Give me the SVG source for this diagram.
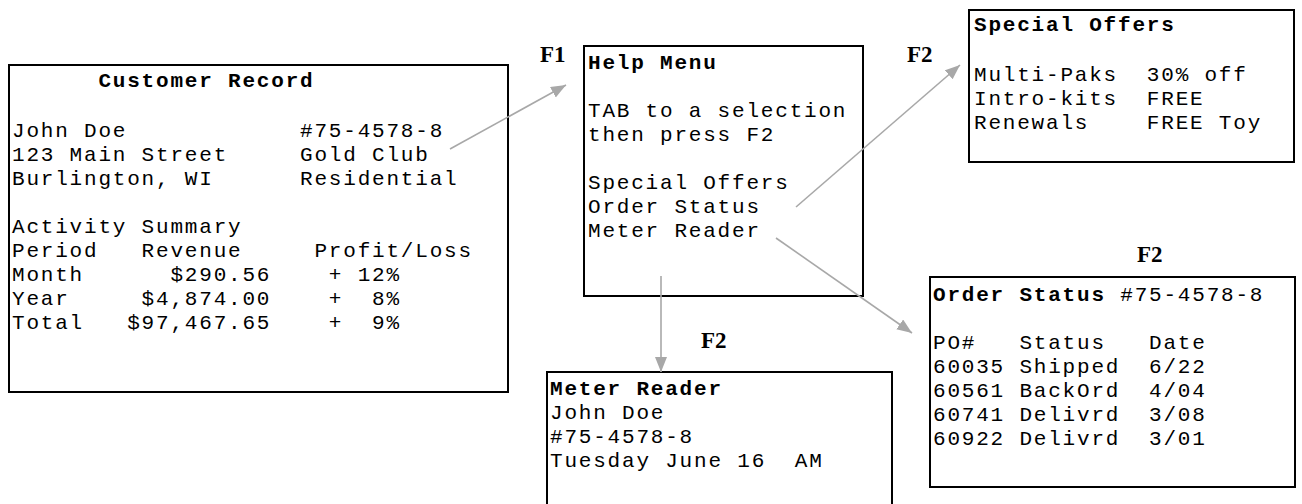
<svg xmlns="http://www.w3.org/2000/svg" width="1302" height="504" viewBox="0 0 1302 504">
<style>
.box{fill:#fff;stroke:#000;stroke-width:2}
.t{font-family:"Liberation Mono","Courier New",monospace;font-size:21px;letter-spacing:1.8px;fill:#000;white-space:pre}
.b{font-weight:bold}
.f{font-family:"Liberation Serif","Times New Roman",serif;font-weight:bold;font-size:23px;fill:#000}
.c{stroke:#a8a8a8;stroke-width:1.6;fill:none}
</style>
<defs>
<marker id="ah" markerUnits="userSpaceOnUse" markerWidth="16" markerHeight="14" refX="15" refY="6" orient="auto">
<path d="M0,0 L15,6 L0,12 z" fill="#a8a8a8"/>
</marker>
</defs>
<rect width="1302" height="504" fill="#fff"/>

<g id="customer-record">
<rect class="box" x="9" y="65" width="499" height="327"/>
<text class="t b" x="12" y="87">      Customer Record</text>
<text class="t" x="12" y="137">John Doe            #75-4578-8</text>
<text class="t" x="12" y="161">123 Main Street     Gold Club</text>
<text class="t" x="12" y="185">Burlington, WI      Residential</text>
<text class="t" x="12" y="233">Activity Summary</text>
<text class="t" x="12" y="257">Period   Revenue     Profit/Loss</text>
<text class="t" x="12" y="281">Month      $290.56    + 12%</text>
<text class="t" x="12" y="305">Year     $4,874.00    +  8%</text>
<text class="t" x="12" y="329">Total   $97,467.65    +  9%</text>
</g>

<g id="help-menu">
<rect class="box" x="584" y="46" width="279" height="250"/>
<text class="f" x="540" y="62">F1</text>
<text class="t b" x="588" y="69">Help Menu</text>
<text class="t" x="588" y="117">TAB to a selection</text>
<text class="t" x="588" y="141">then press F2</text>
<text class="t" x="588" y="189">Special Offers</text>
<text class="t" x="588" y="213">Order Status</text>
<text class="t" x="588" y="237">Meter Reader</text>
</g>

<g id="special-offers">
<rect class="box" x="969" y="10" width="325" height="152"/>
<text class="f" x="907" y="62">F2</text>
<text class="t b" x="974" y="31">Special Offers</text>
<text class="t" x="974" y="81">Multi-Paks  30% off</text>
<text class="t" x="974" y="105">Intro-kits  FREE</text>
<text class="t" x="974" y="129">Renewals    FREE Toy</text>
</g>

<g id="order-status">
<rect class="box" x="930" y="277" width="365" height="210"/>
<text class="f" x="1137" y="262">F2</text>
<text class="t" x="933" y="301"><tspan class="b">Order Status</tspan> #75-4578-8</text>
<text class="t" x="933" y="349">PO#   Status   Date</text>
<text class="t" x="933" y="373">60035 Shipped  6/22</text>
<text class="t" x="933" y="397">60561 BackOrd  4/04</text>
<text class="t" x="933" y="421">60741 Delivrd  3/08</text>
<text class="t" x="933" y="445">60922 Delivrd  3/01</text>
</g>

<g id="meter-reader">
<rect class="box" x="547" y="372" width="345" height="140"/>
<text class="f" x="701" y="348">F2</text>
<text class="t b" x="550" y="395">Meter Reader</text>
<text class="t" x="550" y="419">John Doe</text>
<text class="t" x="550" y="443">#75-4578-8</text>
<text class="t" x="550" y="467">Tuesday June 16  AM</text>
</g>

<g id="connectors">
<line class="c" x1="450" y1="149" x2="566" y2="85" marker-end="url(#ah)"/>
<line class="c" x1="796" y1="207" x2="960" y2="65" marker-end="url(#ah)"/>
<line class="c" x1="776" y1="238" x2="912" y2="333" marker-end="url(#ah)"/>
<line class="c" x1="661" y1="276" x2="661" y2="372" marker-end="url(#ah)"/>
</g>
</svg>
